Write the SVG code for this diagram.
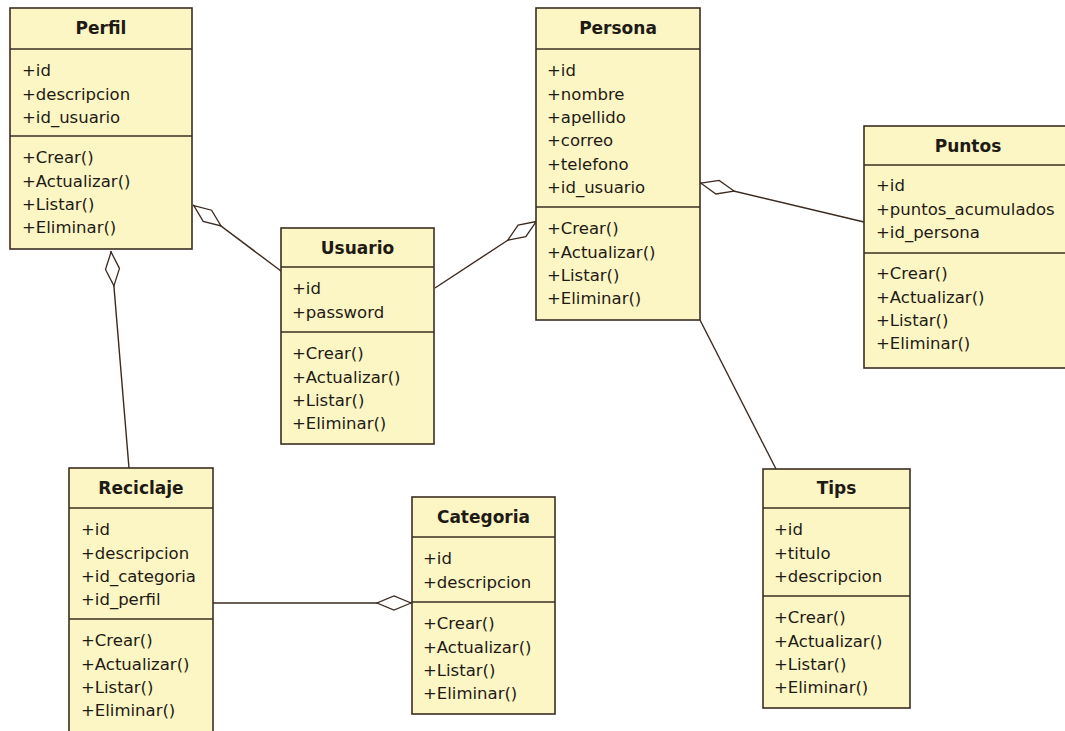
<svg xmlns="http://www.w3.org/2000/svg" width="1065" height="731" viewBox="0 0 1065 731">
  <defs>
    <!-- hollow aggregation diamond, drawn at the start of a connector -->
    <marker id="agg" markerUnits="userSpaceOnUse" markerWidth="40" markerHeight="20" refX="0" refY="8" orient="auto" viewBox="0 0 40 16">
      <path d="M1,8 L18,1 L35,8 L18,15 Z" fill="#ffffff" stroke="#3a2a20" stroke-width="1.3"/>
    </marker>
  </defs>
  <style>
    .box { fill: #fcf5c4; stroke: #3b2e22; stroke-width: 1.6; }
    .div { stroke: #3b2e22; stroke-width: 1.4; }
    .title { font-family: "DejaVu Sans", Verdana, sans-serif; font-weight: bold; font-size: 17px; fill: #1e1a14; text-anchor: middle; }
    .item { font-family: "DejaVu Sans", Verdana, sans-serif; font-size: 16.5px; fill: #1e1a14; }
    .link { fill: none; stroke: #3a2a20; stroke-width: 1.4; }
  </style>
  <rect width="1065" height="731" fill="#ffffff"/>

  <!-- associations -->
  <g id="connectors">
    <path class="link" marker-start="url(#agg)" d="M193,205 L281,271"/>
    <path class="link" marker-start="url(#agg)" d="M537,221 L435,288"/>
    <path class="link" marker-start="url(#agg)" d="M700,183 L864,222"/>
    <path class="link" marker-start="url(#agg)" d="M111,251 L129,468"/>
    <path class="link" marker-start="url(#agg)" d="M412,603 L213,603"/>
    <path class="link" d="M700,320 L776,469"/>
  </g>

  <g id="perfil">
    <rect class="box" x="10" y="8" width="182" height="241"/>
    <line class="div" x1="10" y1="49" x2="192" y2="49"/>
    <line class="div" x1="10" y1="136" x2="192" y2="136"/>
    <text class="title" x="101" y="34">Perfil</text>
    <text class="item" x="22" y="76">+id</text>
    <text class="item" x="22" y="99.5">+descripcion</text>
    <text class="item" x="22" y="123">+id_usuario</text>
    <text class="item" x="22" y="163">+Crear()</text>
    <text class="item" x="22" y="186.5">+Actualizar()</text>
    <text class="item" x="22" y="210">+Listar()</text>
    <text class="item" x="22" y="233">+Eliminar()</text>
  </g>

  <g id="usuario">
    <rect class="box" x="281" y="228" width="153" height="216"/>
    <line class="div" x1="281" y1="267" x2="434" y2="267"/>
    <line class="div" x1="281" y1="332" x2="434" y2="332"/>
    <text class="title" x="357.5" y="254">Usuario</text>
    <text class="item" x="292" y="294">+id</text>
    <text class="item" x="292" y="317.5">+password</text>
    <text class="item" x="292" y="359">+Crear()</text>
    <text class="item" x="292" y="382.5">+Actualizar()</text>
    <text class="item" x="292" y="406">+Listar()</text>
    <text class="item" x="292" y="429">+Eliminar()</text>
  </g>

  <g id="persona">
    <rect class="box" x="536" y="8" width="164" height="312"/>
    <line class="div" x1="536" y1="49" x2="700" y2="49"/>
    <line class="div" x1="536" y1="207" x2="700" y2="207"/>
    <text class="title" x="618" y="34">Persona</text>
    <text class="item" x="547" y="76">+id</text>
    <text class="item" x="547" y="99.5">+nombre</text>
    <text class="item" x="547" y="123">+apellido</text>
    <text class="item" x="547" y="146">+correo</text>
    <text class="item" x="547" y="169.5">+telefono</text>
    <text class="item" x="547" y="193">+id_usuario</text>
    <text class="item" x="547" y="234">+Crear()</text>
    <text class="item" x="547" y="257.5">+Actualizar()</text>
    <text class="item" x="547" y="281">+Listar()</text>
    <text class="item" x="547" y="304">+Eliminar()</text>
  </g>

  <g id="puntos">
    <rect class="box" x="864" y="126" width="208" height="242"/>
    <line class="div" x1="864" y1="165" x2="1072" y2="165"/>
    <line class="div" x1="864" y1="253" x2="1072" y2="253"/>
    <text class="title" x="968" y="152">Puntos</text>
    <text class="item" x="876" y="191">+id</text>
    <text class="item" x="876" y="214.5">+puntos_acumulados</text>
    <text class="item" x="876" y="238">+id_persona</text>
    <text class="item" x="876" y="279">+Crear()</text>
    <text class="item" x="876" y="302.5">+Actualizar()</text>
    <text class="item" x="876" y="326">+Listar()</text>
    <text class="item" x="876" y="349">+Eliminar()</text>
  </g>

  <g id="reciclaje">
    <rect class="box" x="69" y="468" width="144" height="275"/>
    <line class="div" x1="69" y1="508" x2="213" y2="508"/>
    <line class="div" x1="69" y1="619" x2="213" y2="619"/>
    <text class="title" x="141" y="494">Reciclaje</text>
    <text class="item" x="81" y="535">+id</text>
    <text class="item" x="81" y="558.5">+descripcion</text>
    <text class="item" x="81" y="582">+id_categoria</text>
    <text class="item" x="81" y="605">+id_perfil</text>
    <text class="item" x="81" y="646">+Crear()</text>
    <text class="item" x="81" y="669.5">+Actualizar()</text>
    <text class="item" x="81" y="693">+Listar()</text>
    <text class="item" x="81" y="716">+Eliminar()</text>
  </g>

  <g id="categoria">
    <rect class="box" x="412" y="497" width="143" height="217"/>
    <line class="div" x1="412" y1="537" x2="555" y2="537"/>
    <line class="div" x1="412" y1="602" x2="555" y2="602"/>
    <text class="title" x="483.5" y="523">Categoria</text>
    <text class="item" x="423" y="564">+id</text>
    <text class="item" x="423" y="587.5">+descripcion</text>
    <text class="item" x="423" y="629">+Crear()</text>
    <text class="item" x="423" y="652.5">+Actualizar()</text>
    <text class="item" x="423" y="676">+Listar()</text>
    <text class="item" x="423" y="699">+Eliminar()</text>
  </g>

  <g id="tips">
    <rect class="box" x="763" y="469" width="147" height="239"/>
    <line class="div" x1="763" y1="508" x2="910" y2="508"/>
    <line class="div" x1="763" y1="596" x2="910" y2="596"/>
    <text class="title" x="836.5" y="494">Tips</text>
    <text class="item" x="774" y="535">+id</text>
    <text class="item" x="774" y="558.5">+titulo</text>
    <text class="item" x="774" y="582">+descripcion</text>
    <text class="item" x="774" y="623">+Crear()</text>
    <text class="item" x="774" y="646.5">+Actualizar()</text>
    <text class="item" x="774" y="670">+Listar()</text>
    <text class="item" x="774" y="693">+Eliminar()</text>
  </g>
</svg>
